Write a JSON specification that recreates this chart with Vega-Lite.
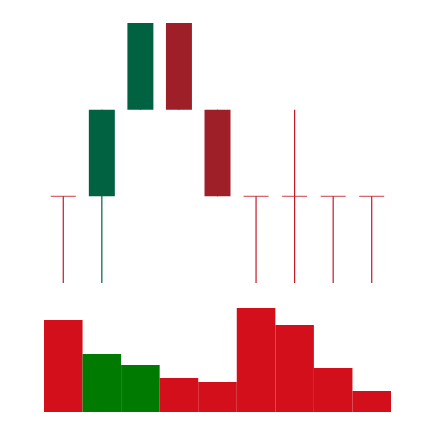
{
  "$schema": "https://vega.github.io/schema/vega-lite/v6.json",
  "width": 347,
  "height": 422,
  "autosize": {"type": "none"},
  "padding": {"left": 44, "top": 0, "right": 43, "bottom": 0},
  "background": "white",
  "config": {"view": {"stroke": null}},
  "data": {
    "values": [
      {"day": 1, "open": 2, "high": 2, "low": 1, "close": 2, "volume": 92},
      {"day": 2, "open": 2, "high": 3, "low": 1, "close": 3, "volume": 58},
      {"day": 3, "open": 3, "high": 4, "low": 3, "close": 4, "volume": 47},
      {"day": 4, "open": 4, "high": 4, "low": 3, "close": 3, "volume": 34},
      {"day": 5, "open": 3, "high": 3, "low": 2, "close": 2, "volume": 30},
      {"day": 6, "open": 2, "high": 2, "low": 1, "close": 2, "volume": 104},
      {"day": 7, "open": 2, "high": 3, "low": 1, "close": 2, "volume": 87},
      {"day": 8, "open": 2, "high": 2, "low": 1, "close": 2, "volume": 44},
      {"day": 9, "open": 2, "high": 2, "low": 1, "close": 2, "volume": 21}
    ]
  },
  "encoding": {
    "x": {"field": "day", "type": "ordinal", "axis": null, "scale": {"paddingInner": 0, "paddingOuter": 0}}
  },
  "layer": [
    {
      "mark": {"type": "rule", "strokeWidth": 1.2},
      "encoding": {
        "y": {"field": "low", "type": "quantitative", "axis": null, "scale": {"domain": [1, 4], "range": [283, 23], "zero": false, "nice": false}},
        "y2": {"field": "high"},
        "color": {"condition": {"test": "datum.close > datum.open", "value": "#006241"}, "value": "#c41a28"}
      }
    },
    {
      "transform": [{"filter": "datum.open != datum.close"}],
      "mark": {"type": "bar", "size": 26},
      "encoding": {
        "y": {"field": "open", "type": "quantitative", "axis": null, "scale": {"domain": [1, 4], "range": [283, 23], "zero": false, "nice": false}},
        "y2": {"field": "close"},
        "color": {"condition": {"test": "datum.close > datum.open", "value": "#006241"}, "value": "#9e1f28"}
      }
    },
    {
      "transform": [{"filter": "datum.open == datum.close"}],
      "mark": {"type": "tick", "size": 25, "thickness": 1.2, "orient": "horizontal"},
      "encoding": {
        "y": {"field": "open", "type": "quantitative", "axis": null, "scale": {"domain": [1, 4], "range": [283, 23], "zero": false, "nice": false}},
        "color": {"value": "#c41a28"}
      }
    },
    {
      "mark": {"type": "bar"},
      "encoding": {
        "y": {"field": "volume", "type": "quantitative", "axis": null, "scale": {"domain": [0, 104], "range": [412, 308], "nice": false}},
        "color": {"condition": {"test": "datum.close > datum.open", "value": "#007a00"}, "value": "#d20f1a"}
      }
    }
  ],
  "resolve": {"scale": {"y": "independent"}}
}
